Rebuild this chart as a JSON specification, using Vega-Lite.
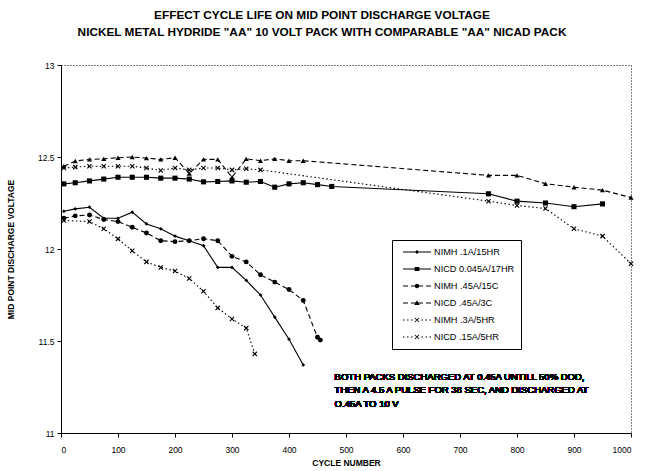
{
  "$schema": "https://vega.github.io/schema/vega-lite/v6.json",
  "width": 570,
  "height": 368,
  "autosize": "none",
  "padding": {"left": 61, "top": 65, "right": 14, "bottom": 38},
  "background": "white",
  "config": {
    "font": "Liberation Sans",
    "view": {"stroke": "black", "strokeDash": [1, 2], "strokeWidth": 1}
  },
  "title": {
    "text": ["EFFECT CYCLE LIFE ON MID POINT DISCHARGE VOLTAGE", "NICKEL METAL HYDRIDE \"AA\" 10 VOLT PACK WITH COMPARABLE \"AA\" NICAD PACK"],
    "fontSize": 11.8,
    "fontWeight": "bold",
    "lineHeight": 17,
    "offset": 22,
    "dx": -24,
    "color": "black"
  },
  "data": {
    "values": [
      {"s": "NIMH .1A/15HR", "c": 5, "v": 12.205},
      {"s": "NIMH .1A/15HR", "c": 25, "v": 12.218},
      {"s": "NIMH .1A/15HR", "c": 50, "v": 12.227},
      {"s": "NIMH .1A/15HR", "c": 75, "v": 12.167},
      {"s": "NIMH .1A/15HR", "c": 100, "v": 12.167},
      {"s": "NIMH .1A/15HR", "c": 125, "v": 12.2},
      {"s": "NIMH .1A/15HR", "c": 150, "v": 12.136},
      {"s": "NIMH .1A/15HR", "c": 175, "v": 12.11},
      {"s": "NIMH .1A/15HR", "c": 200, "v": 12.07},
      {"s": "NIMH .1A/15HR", "c": 225, "v": 12.045},
      {"s": "NIMH .1A/15HR", "c": 250, "v": 12.018},
      {"s": "NIMH .1A/15HR", "c": 275, "v": 11.9},
      {"s": "NIMH .1A/15HR", "c": 300, "v": 11.9},
      {"s": "NIMH .1A/15HR", "c": 325, "v": 11.83},
      {"s": "NIMH .1A/15HR", "c": 350, "v": 11.75},
      {"s": "NIMH .1A/15HR", "c": 375, "v": 11.63},
      {"s": "NIMH .1A/15HR", "c": 400, "v": 11.51},
      {"s": "NIMH .1A/15HR", "c": 425, "v": 11.37},

      {"s": "NICD 0.045A/17HR", "c": 5, "v": 12.354},
      {"s": "NICD 0.045A/17HR", "c": 25, "v": 12.36},
      {"s": "NICD 0.045A/17HR", "c": 50, "v": 12.37},
      {"s": "NICD 0.045A/17HR", "c": 75, "v": 12.38},
      {"s": "NICD 0.045A/17HR", "c": 100, "v": 12.39},
      {"s": "NICD 0.045A/17HR", "c": 125, "v": 12.39},
      {"s": "NICD 0.045A/17HR", "c": 150, "v": 12.39},
      {"s": "NICD 0.045A/17HR", "c": 175, "v": 12.385},
      {"s": "NICD 0.045A/17HR", "c": 200, "v": 12.385},
      {"s": "NICD 0.045A/17HR", "c": 225, "v": 12.38},
      {"s": "NICD 0.045A/17HR", "c": 250, "v": 12.365},
      {"s": "NICD 0.045A/17HR", "c": 275, "v": 12.367},
      {"s": "NICD 0.045A/17HR", "c": 300, "v": 12.37},
      {"s": "NICD 0.045A/17HR", "c": 325, "v": 12.363},
      {"s": "NICD 0.045A/17HR", "c": 350, "v": 12.367},
      {"s": "NICD 0.045A/17HR", "c": 375, "v": 12.336},
      {"s": "NICD 0.045A/17HR", "c": 400, "v": 12.354},
      {"s": "NICD 0.045A/17HR", "c": 425, "v": 12.36},
      {"s": "NICD 0.045A/17HR", "c": 450, "v": 12.35},
      {"s": "NICD 0.045A/17HR", "c": 475, "v": 12.34},
      {"s": "NICD 0.045A/17HR", "c": 750, "v": 12.3},
      {"s": "NICD 0.045A/17HR", "c": 800, "v": 12.26},
      {"s": "NICD 0.045A/17HR", "c": 850, "v": 12.25},
      {"s": "NICD 0.045A/17HR", "c": 900, "v": 12.23},
      {"s": "NICD 0.045A/17HR", "c": 950, "v": 12.245},

      {"s": "NIMH .45A/15C", "c": 5, "v": 12.167},
      {"s": "NIMH .45A/15C", "c": 25, "v": 12.18},
      {"s": "NIMH .45A/15C", "c": 50, "v": 12.185},
      {"s": "NIMH .45A/15C", "c": 75, "v": 12.16},
      {"s": "NIMH .45A/15C", "c": 100, "v": 12.149},
      {"s": "NIMH .45A/15C", "c": 125, "v": 12.118},
      {"s": "NIMH .45A/15C", "c": 150, "v": 12.087},
      {"s": "NIMH .45A/15C", "c": 175, "v": 12.045},
      {"s": "NIMH .45A/15C", "c": 200, "v": 12.04},
      {"s": "NIMH .45A/15C", "c": 225, "v": 12.045},
      {"s": "NIMH .45A/15C", "c": 250, "v": 12.056},
      {"s": "NIMH .45A/15C", "c": 275, "v": 12.045},
      {"s": "NIMH .45A/15C", "c": 300, "v": 11.96},
      {"s": "NIMH .45A/15C", "c": 325, "v": 11.93},
      {"s": "NIMH .45A/15C", "c": 350, "v": 11.86},
      {"s": "NIMH .45A/15C", "c": 375, "v": 11.82},
      {"s": "NIMH .45A/15C", "c": 400, "v": 11.78},
      {"s": "NIMH .45A/15C", "c": 425, "v": 11.72},
      {"s": "NIMH .45A/15C", "c": 450, "v": 11.52},
      {"s": "NIMH .45A/15C", "c": 455, "v": 11.505},

      {"s": "NICD .45A/3C", "c": 5, "v": 12.45},
      {"s": "NICD .45A/3C", "c": 25, "v": 12.478},
      {"s": "NICD .45A/3C", "c": 50, "v": 12.487},
      {"s": "NICD .45A/3C", "c": 75, "v": 12.49},
      {"s": "NICD .45A/3C", "c": 100, "v": 12.496},
      {"s": "NICD .45A/3C", "c": 125, "v": 12.5},
      {"s": "NICD .45A/3C", "c": 150, "v": 12.494},
      {"s": "NICD .45A/3C", "c": 175, "v": 12.487},
      {"s": "NICD .45A/3C", "c": 200, "v": 12.496},
      {"s": "NICD .45A/3C", "c": 225, "v": 12.41},
      {"s": "NICD .45A/3C", "c": 250, "v": 12.487},
      {"s": "NICD .45A/3C", "c": 275, "v": 12.487},
      {"s": "NICD .45A/3C", "c": 300, "v": 12.39},
      {"s": "NICD .45A/3C", "c": 325, "v": 12.49},
      {"s": "NICD .45A/3C", "c": 350, "v": 12.48},
      {"s": "NICD .45A/3C", "c": 375, "v": 12.49},
      {"s": "NICD .45A/3C", "c": 400, "v": 12.48},
      {"s": "NICD .45A/3C", "c": 425, "v": 12.48},
      {"s": "NICD .45A/3C", "c": 750, "v": 12.4},
      {"s": "NICD .45A/3C", "c": 800, "v": 12.4},
      {"s": "NICD .45A/3C", "c": 850, "v": 12.355},
      {"s": "NICD .45A/3C", "c": 900, "v": 12.336},
      {"s": "NICD .45A/3C", "c": 950, "v": 12.32},
      {"s": "NICD .45A/3C", "c": 1000, "v": 12.28},

      {"s": "NIMH .3A/5HR", "c": 5, "v": 12.155},
      {"s": "NIMH .3A/5HR", "c": 50, "v": 12.149},
      {"s": "NIMH .3A/5HR", "c": 75, "v": 12.11},
      {"s": "NIMH .3A/5HR", "c": 100, "v": 12.055},
      {"s": "NIMH .3A/5HR", "c": 125, "v": 11.99},
      {"s": "NIMH .3A/5HR", "c": 150, "v": 11.93},
      {"s": "NIMH .3A/5HR", "c": 175, "v": 11.9},
      {"s": "NIMH .3A/5HR", "c": 200, "v": 11.88},
      {"s": "NIMH .3A/5HR", "c": 225, "v": 11.84},
      {"s": "NIMH .3A/5HR", "c": 250, "v": 11.77},
      {"s": "NIMH .3A/5HR", "c": 275, "v": 11.68},
      {"s": "NIMH .3A/5HR", "c": 300, "v": 11.62},
      {"s": "NIMH .3A/5HR", "c": 325, "v": 11.57},
      {"s": "NIMH .3A/5HR", "c": 340, "v": 11.43},

      {"s": "NICD .15A/5HR", "c": 5, "v": 12.44},
      {"s": "NICD .15A/5HR", "c": 25, "v": 12.445},
      {"s": "NICD .15A/5HR", "c": 50, "v": 12.45},
      {"s": "NICD .15A/5HR", "c": 75, "v": 12.45},
      {"s": "NICD .15A/5HR", "c": 100, "v": 12.45},
      {"s": "NICD .15A/5HR", "c": 125, "v": 12.45},
      {"s": "NICD .15A/5HR", "c": 150, "v": 12.44},
      {"s": "NICD .15A/5HR", "c": 175, "v": 12.427},
      {"s": "NICD .15A/5HR", "c": 200, "v": 12.44},
      {"s": "NICD .15A/5HR", "c": 225, "v": 12.43},
      {"s": "NICD .15A/5HR", "c": 250, "v": 12.44},
      {"s": "NICD .15A/5HR", "c": 275, "v": 12.44},
      {"s": "NICD .15A/5HR", "c": 300, "v": 12.43},
      {"s": "NICD .15A/5HR", "c": 325, "v": 12.436},
      {"s": "NICD .15A/5HR", "c": 350, "v": 12.43},
      {"s": "NICD .15A/5HR", "c": 750, "v": 12.26},
      {"s": "NICD .15A/5HR", "c": 800, "v": 12.236},
      {"s": "NICD .15A/5HR", "c": 850, "v": 12.22},
      {"s": "NICD .15A/5HR", "c": 900, "v": 12.11},
      {"s": "NICD .15A/5HR", "c": 950, "v": 12.07},
      {"s": "NICD .15A/5HR", "c": 1000, "v": 11.92}
    ]
  },
  "encoding": {
    "x": {
      "field": "c",
      "type": "quantitative",
      "scale": {"domain": [0, 1000], "nice": false},
      "axis": {
        "values": [0, 100, 200, 300, 400, 500, 600, 700, 800, 900, 1000],
        "format": "d",
        "title": "CYCLE NUMBER",
        "titleFontSize": 8.5,
        "titleFontWeight": "bold",
        "titleColor": "black",
        "titlePadding": 5,
        "labelFontSize": 8.5,
        "labelColor": "black",
        "labelPadding": 8,
        "grid": false,
        "domainColor": "black",
        "tickColor": "black",
        "tickSize": 4
      }
    },
    "y": {
      "field": "v",
      "type": "quantitative",
      "scale": {"domain": [11, 13], "nice": false, "zero": false},
      "axis": {
        "values": [11, 11.5, 12, 12.5, 13],
        "format": "~g",
        "title": "MID POINT DISCHARGE VOLTAGE",
        "titleFontSize": 8.5,
        "titleFontWeight": "bold",
        "titleColor": "black",
        "titlePadding": 22,
        "labelFontSize": 8.5,
        "labelColor": "black",
        "labelPadding": 3,
        "grid": false,
        "domainColor": "black",
        "tickColor": "black",
        "tickSize": 4
      }
    }
  },
  "layer": [
    {
      "transform": [{"filter": "datum.s == 'NIMH .1A/15HR' || datum.s == 'NICD 0.045A/17HR'"}],
      "mark": {"type": "line", "color": "black", "strokeWidth": 1.1},
      "encoding": {"detail": {"field": "s"}}
    },
    {
      "transform": [{"filter": "datum.s == 'NIMH .45A/15C' || datum.s == 'NICD .45A/3C'"}],
      "mark": {"type": "line", "color": "black", "strokeWidth": 1.1, "strokeDash": [5, 3]},
      "encoding": {"detail": {"field": "s"}}
    },
    {
      "transform": [{"filter": "datum.s == 'NIMH .3A/5HR' || datum.s == 'NICD .15A/5HR'"}],
      "mark": {"type": "line", "color": "black", "strokeWidth": 1.1, "strokeDash": [1.5, 2.5]},
      "encoding": {"detail": {"field": "s"}}
    },
    {
      "transform": [{"filter": "datum.s == 'NIMH .1A/15HR'"}],
      "mark": {"type": "point", "shape": "M0,-1L1,0L0,1L-1,0Z", "filled": true, "color": "black", "size": 14, "opacity": 1}
    },
    {
      "transform": [{"filter": "datum.s == 'NICD 0.045A/17HR'"}],
      "mark": {"type": "point", "shape": "square", "filled": true, "color": "black", "size": 26, "opacity": 1}
    },
    {
      "transform": [{"filter": "datum.s == 'NIMH .45A/15C'"}],
      "mark": {"type": "point", "shape": "circle", "filled": true, "color": "black", "size": 24, "opacity": 1}
    },
    {
      "transform": [{"filter": "datum.s == 'NICD .45A/3C'"}],
      "mark": {"type": "point", "shape": "triangle-up", "filled": true, "color": "black", "size": 26, "opacity": 1}
    },
    {
      "transform": [{"filter": "datum.s == 'NIMH .3A/5HR' || datum.s == 'NICD .15A/5HR'"}],
      "mark": {"type": "point", "shape": "M-1,-1L1,1M1,-1L-1,1", "filled": false, "color": "black", "strokeWidth": 1.1, "size": 18, "opacity": 1}
    },
    {
      "transform": [{"filter": "datum.c < 0"}],
      "mark": {"type": "point", "filled": true, "color": "black"},
      "encoding": {
        "shape": {
          "field": "s",
          "type": "nominal",
          "scale": {
            "domain": ["NIMH .1A/15HR", "NICD 0.045A/17HR", "NIMH .45A/15C", "NICD .45A/3C", "NIMH .3A/5HR", "NICD .15A/5HR"],
            "range": [
              "M-2.8,-0.1L2.8,-0.1L2.8,0.1L-2.8,0.1ZM0,-0.42L0.42,0L0,0.42L-0.42,0Z",
              "M-2.8,-0.1L2.8,-0.1L2.8,0.1L-2.8,0.1ZM-0.48,-0.42L0.48,-0.42L0.48,0.42L-0.48,0.42Z",
              "M-2.8,-0.1L-1.8,-0.1L-1.8,0.1L-2.8,0.1ZM-1.2,-0.1L1.2,-0.1L1.2,0.1L-1.2,0.1ZM1.8,-0.1L2.8,-0.1L2.8,0.1L1.8,0.1ZM0.46,0A0.46,0.46 0 1,1 -0.46,0A0.46,0.46 0 1,1 0.46,0Z",
              "M-2.8,-0.1L-1.8,-0.1L-1.8,0.1L-2.8,0.1ZM-1.2,-0.1L1.2,-0.1L1.2,0.1L-1.2,0.1ZM1.8,-0.1L2.8,-0.1L2.8,0.1L1.8,0.1ZM0,-0.55L0.55,0.4L-0.55,0.4Z",
              "M-2.8,-0.1L-2.5,-0.1L-2.5,0.1L-2.8,0.1ZM-2,-0.1L-1.7,-0.1L-1.7,0.1L-2,0.1ZM-1.2,-0.1L-0.9,-0.1L-0.9,0.1L-1.2,0.1ZM0.9,-0.1L1.2,-0.1L1.2,0.1L0.9,0.1ZM1.7,-0.1L2,-0.1L2,0.1L1.7,0.1ZM2.5,-0.1L2.8,-0.1L2.8,0.1L2.5,0.1ZM-0.47,-0.33L-0.33,-0.47L0.47,0.33L0.33,0.47ZM0.33,-0.47L0.47,-0.33L-0.33,0.47L-0.47,0.33Z",
              "M-2.8,-0.1L-2.5,-0.1L-2.5,0.1L-2.8,0.1ZM-2,-0.1L-1.7,-0.1L-1.7,0.1L-2,0.1ZM-1.2,-0.1L-0.9,-0.1L-0.9,0.1L-1.2,0.1ZM0.9,-0.1L1.2,-0.1L1.2,0.1L0.9,0.1ZM1.7,-0.1L2,-0.1L2,0.1L1.7,0.1ZM2.5,-0.1L2.8,-0.1L2.8,0.1L2.5,0.1ZM-0.47,-0.33L-0.33,-0.47L0.47,0.33L0.33,0.47ZM0.33,-0.47L0.47,-0.33L-0.33,0.47L-0.47,0.33Z"
            ]
          },
          "legend": {
            "title": null,
            "orient": "none",
            "legendX": 331,
            "legendY": 175,
            "symbolSize": 100,
            "symbolOffset": 13,
            "symbolOpacity": 1,
            "symbolFillColor": "black",
            "labelFontSize": 9.2,
            "labelColor": "black",
            "labelOffset": 11,
            "labelExpr": "datum.label + '    '",
            "strokeColor": "black",
            "fillColor": "white",
            "padding": 6,
            "rowPadding": 5,
            "encode": {
              "symbols": {
                "update": {
                  "fill": {"value": "black"},
                  "opacity": {"value": 1}
                }
              }
            }
          }
        }
      }
    },
    {
      "mark": {
        "type": "text",
        "text": ["BOTH PACKS DISCHARGED AT 0.45A UNTILL 50% DOD,", "THEN A 4.5 A PULSE FOR 38 SEC, AND DISCHARGED AT", "O.45A TO 10 V"],
        "align": "left",
        "baseline": "middle",
        "fontSize": 9.5,
        "lineHeight": 13.5,
        "color": "black"
      },
      "encoding": {
        "x": {"datum": 480},
        "y": {"datum": 11.305}
      }
    }
  ]
}
